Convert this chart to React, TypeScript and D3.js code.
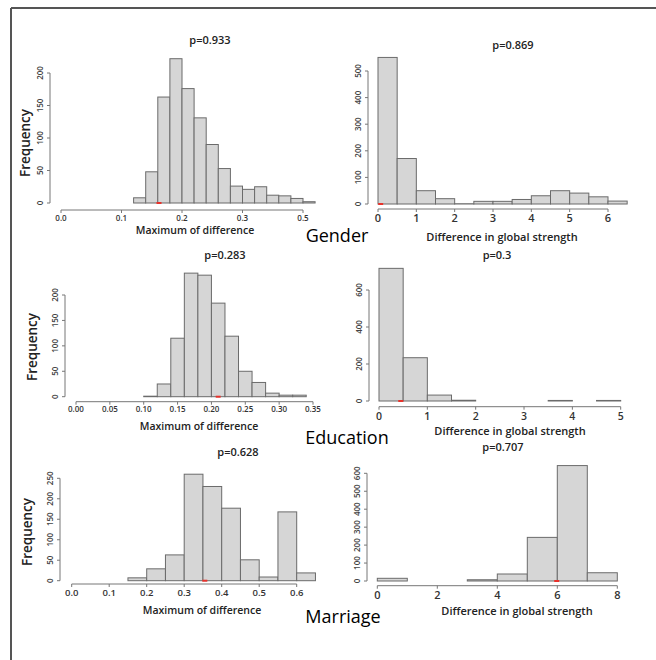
import React from "react";
import * as d3 from "d3";

// permutation histograms (counts per bin)
const genderMaxCounts = [8, 48, 163, 222, 176, 131, 90, 53, 26, 21, 25, 12, 11, 7, 2];
const genderStrCounts = [551, 171, 50, 20, 1, 10, 10, 17, 31, 50, 41, 27, 11];
const eduMaxCounts = [1, 25, 115, 243, 239, 184, 119, 50, 28, 7, 3, 3, 0];
const eduStrCounts = [717, 234, 32, 4, 0, 0, 0, 3, 0, 3];
const marMaxCounts = [7, 29, 63, 260, 230, 177, 51, 9, 168, 19];
const marStrCounts = [15, 0, 0, 7, 39, 243, 643, 46];

const groupLabels = ["Gender", "Education", "Marriage"];
const pValues = ["p=0.933", "p=0.869", "p=0.283", "p=0.3", "p=0.628", "p=0.707"];
const observed = [0.162, 0.07, 0.21, 0.45, 0.355, 5.98];

const maxTicks1 = [0, 0.1, 0.2, 0.3, 0.4];
const maxTickLabels1 = ["0.0", "0.1", "0.2", "0.3", "0.5"];
const strTicks1 = [0, 1, 2, 3, 4, 5, 6];
const maxTicks2 = [0, 0.05, 0.1, 0.15, 0.2, 0.25, 0.3, 0.35];
const maxTickLabels2 = ["0.00", "0.05", "0.10", "0.15", "0.20", "0.25", "0.30", "0.35"];
const strTicks2 = [0, 1, 2, 3, 4, 5];
const maxTicks3 = [0, 0.1, 0.2, 0.3, 0.4, 0.5, 0.6];
const maxTickLabels3 = ["0.0", "0.1", "0.2", "0.3", "0.4", "0.5", "0.6"];
const strTicks3 = [0, 2, 4, 6, 8];

const yTicks1 = [0, 50, 100, 150, 200];
const yTicks2 = [0, 100, 200, 300, 400, 500];
const yTicks3 = [0, 50, 100, 150, 200];
const yTicks4 = [0, 200, 400, 600];
const yTicks5 = [0, 50, 100, 150, 200, 250];
const yTicks6 = [0, 100, 200, 300, 400, 500, 600];

const FONT = "'Open Sans', 'Noto Sans', sans-serif";

type Panel = {
  counts: number[];
  start: number;
  width: number;
  xTicks: number[];
  xLabels: string[];
  yTicks: number[];
  title: string;
  obs: number;
  xLab: string;
  freq: boolean;
  // layout
  xd: [number, number];
  xr: [number, number];
  yd: [number, number];
  yr: [number, number];
  axisY: number;
  axisX: number;
  titlePos: [number, number];
  xLabPos: [number, number];
  freqPos?: [number, number];
  tickFont: number;
};

const panels: Panel[] = [
  {
    counts: genderMaxCounts, start: 0.12, width: 0.02,
    xTicks: maxTicks1, xLabels: maxTickLabels1, yTicks: yTicks1,
    title: pValues[0], obs: observed[0], xLab: "Maximum of difference", freq: true,
    xd: [0, 0.4], xr: [61, 303], yd: [0, 200], yr: [203, 73],
    axisY: 210, axisX: 50, titlePos: [210, 40], xLabPos: [195, 230], freqPos: [25, 143], tickFont: 8,
  },
  {
    counts: genderStrCounts, start: 0, width: 0.5,
    xTicks: strTicks1, xLabels: strTicks1.map(String), yTicks: yTicks2,
    title: pValues[1], obs: observed[1], xLab: "Difference in global strength", freq: false,
    xd: [0, 6], xr: [378, 608], yd: [0, 500], yr: [204, 71],
    axisY: 209, axisX: 368, titlePos: [513, 45], xLabPos: [502, 237], tickFont: 11,
  },
  {
    counts: eduMaxCounts, start: 0.1, width: 0.02,
    xTicks: maxTicks2, xLabels: maxTickLabels2, yTicks: yTicks3,
    title: pValues[2], obs: observed[2], xLab: "Maximum of difference", freq: true,
    xd: [0, 0.35], xr: [76, 313], yd: [0, 200], yr: [396.7, 295],
    axisY: 401.7, axisX: 65, titlePos: [225, 255], xLabPos: [199, 426], freqPos: [32, 347], tickFont: 8,
  },
  {
    counts: eduStrCounts, start: 0, width: 0.5,
    xTicks: strTicks2, xLabels: strTicks2.map(String), yTicks: yTicks4,
    title: pValues[3], obs: observed[3], xLab: "Difference in global strength", freq: false,
    xd: [0, 5], xr: [379, 620.7], yd: [0, 600], yr: [401, 290],
    axisY: 406.7, axisX: 369, titlePos: [497, 255], xLabPos: [510, 431], tickFont: 10.5,
  },
  {
    counts: marMaxCounts, start: 0.15, width: 0.05,
    xTicks: maxTicks3, xLabels: maxTickLabels3, yTicks: yTicks5,
    title: pValues[4], obs: observed[4], xLab: "Maximum of difference", freq: true,
    xd: [0, 0.6], xr: [71.7, 296.7], yd: [0, 250], yr: [580.7, 478.3],
    axisY: 584, axisX: 60, titlePos: [238, 452], xLabPos: [202, 610], freqPos: [27, 532], tickFont: 9.5,
  },
  {
    counts: marStrCounts, start: 0, width: 1,
    xTicks: strTicks3, xLabels: strTicks3.map(String), yTicks: yTicks6,
    title: pValues[5], obs: observed[5], xLab: "Difference in global strength", freq: false,
    xd: [0, 8], xr: [377.3, 617.3], yd: [0, 600], yr: [581, 473.3],
    axisY: 585.7, axisX: 367, titlePos: [503, 447], xLabPos: [517, 611], tickFont: 11,
  },
];

const groupPos: [number, number][] = [
  [337, 242],
  [347, 444],
  [343, 623],
];

function Histogram({ p }: { p: Panel }) {
  const x = d3.scaleLinear().domain(p.xd).range(p.xr);
  const y = d3.scaleLinear().domain(p.yd).range(p.yr);
  const y0 = y(0);
  const yMin = p.yTicks[0];
  const yMax = p.yTicks[p.yTicks.length - 1];
  const xMin = p.xTicks[0];
  const xMax = p.xTicks[p.xTicks.length - 1];
  return (
    <g>
      {p.counts.map((c, i) => {
        const a = p.start + i * p.width;
        return (
          <rect
            key={i}
            x={x(a)}
            y={y(c)}
            width={x(a + p.width) - x(a)}
            height={Math.max(0, y0 - y(c))}
            fill="#d6d6d6"
            stroke="#6b6b6b"
            strokeWidth={1}
          />
        );
      })}
      <line x1={x(p.obs) - 2.5} x2={x(p.obs) + 2.5} y1={y0} y2={y0} stroke="#e8322b" strokeWidth={2} />
      {/* x axis */}
      <line x1={x(xMin)} x2={x(xMax)} y1={p.axisY} y2={p.axisY} stroke="#777" />
      {p.xTicks.map((t, i) => (
        <g key={i}>
          <line x1={x(t)} x2={x(t)} y1={p.axisY} y2={p.axisY + 3} stroke="#777" />
          <text
            x={x(t)}
            y={p.axisY + 3.5 + p.tickFont * 0.9}
            textAnchor="middle"
            fontSize={p.tickFont}
            fontWeight={600}
            fill="#333"
            fontFamily={FONT}
          >
            {p.xLabels[i]}
          </text>
        </g>
      ))}
      {/* y axis */}
      <line x1={p.axisX} x2={p.axisX} y1={y(yMin)} y2={y(yMax)} stroke="#777" />
      {p.yTicks.map((t) => (
        <g key={t}>
          <line x1={p.axisX - 3} x2={p.axisX} y1={y(t)} y2={y(t)} stroke="#777" />
          <text
            transform={`translate(${p.axisX - 7},${y(t)}) rotate(-90)`}
            textAnchor="middle"
            fontSize={8}
            fontWeight={600}
            fill="#444"
            fontFamily={FONT}
          >
            {t}
          </text>
        </g>
      ))}
      <text
        x={p.titlePos[0]}
        y={p.titlePos[1] + 4}
        textAnchor="middle"
        fontSize={11}
        fontWeight={600}
        fill="#222"
        fontFamily={FONT}
      >
        {p.title}
      </text>
      <text
        x={p.xLabPos[0]}
        y={p.xLabPos[1] + 4}
        textAnchor="middle"
        fontSize={p.freq ? 10.5 : 11}
        fontWeight={600}
        fill="#222"
        fontFamily={FONT}
      >
        {p.xLab}
      </text>
      {p.freq && p.freqPos && (
        <text
          transform={`translate(${p.freqPos[0] + 5},${p.freqPos[1]}) rotate(-90)`}
          textAnchor="middle"
          fontSize={13.5}
          fontWeight={600}
          fill="#222"
          fontFamily={FONT}
        >
          Frequency
        </text>
      )}
    </g>
  );
}

export default function App() {
  return (
    <svg
      width={656}
      height={660}
      style={{ position: "absolute", left: 0, top: 0, background: "#fff" }}
    >
      <rect x={0} y={0} width={656} height={660} fill="#fff" />
      <line x1={11} x2={656} y1={8} y2={8} stroke="#555" strokeWidth={2} />
      <line x1={11} x2={11} y1={8} y2={660} stroke="#555" strokeWidth={2} />
      {panels.map((p, i) => (
        <Histogram key={i} p={p} />
      ))}
      {groupLabels.map((g, i) => (
        <text
          key={g}
          x={groupPos[i][0]}
          y={groupPos[i][1]}
          textAnchor="middle"
          fontSize={18}
          fill="#000"
          fontFamily={FONT}
        >
          {g}
        </text>
      ))}
    </svg>
  );
}
